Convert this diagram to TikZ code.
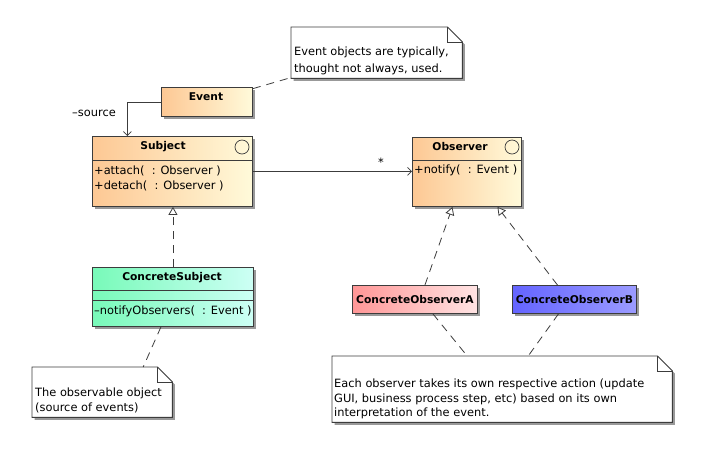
\documentclass[tikz,border=0pt]{standalone}
\usepackage{fontspec}
\setmainfont{DejaVu Sans}
\usetikzlibrary{arrows.meta,shadows,calc}
\definecolor{orgL}{RGB}{253,200,148}
\definecolor{orgR}{RGB}{255,250,218}
\definecolor{grnL}{RGB}{120,250,185}
\definecolor{grnR}{RGB}{205,255,245}
\definecolor{redL}{RGB}{255,150,150}
\definecolor{redR}{RGB}{255,228,228}
\definecolor{bluL}{RGB}{100,100,255}
\definecolor{bluR}{RGB}{155,155,255}
\definecolor{ln}{RGB}{60,60,60}
\begin{document}
\begin{tikzpicture}[x=1pt,y=-1pt,
  font=\fontsize{11.4}{15}\selectfont,
  shad/.style={drop shadow={shadow xshift=2.5pt,shadow yshift=-2.5pt,fill=black!40,opacity=1}},
  classbox/.style={draw=ln,line width=0.9pt,rectangle,inner sep=0pt,anchor=north west,shad},
  orangefill/.style={left color=orgL,right color=orgR},
  greenfill/.style={left color=grnL,right color=grnR},
  redfill/.style={left color=redL,right color=redR},
  bluefill/.style={left color=bluL,right color=bluR},
  divider/.style={draw=ln,line width=0.9pt},
  ttl/.style={font=\fontsize{10.7}{12}\bfseries\selectfont,inner sep=0pt},
  mem/.style={anchor=west,inner sep=0pt},
  notearea/.style={rectangle,inner sep=0pt,anchor=north west},
  noteline/.style={draw=ln,line width=0.9pt,fill=white},
  notetext/.style={anchor=base west,inner sep=0pt},
  link/.style={draw=ln,line width=0.8pt,dash pattern=on 8pt off 6pt},
  real/.style={draw=ln,line width=0.8pt,dash pattern=on 8pt off 6pt,-{Triangle[open,length=8pt,width=9pt,fill=white]}},
  assoc/.style={draw=ln,line width=0.8pt,-{Straight Barb[length=4pt,width=8pt,line width=0.7pt]}},
  kstate/.style={draw=ln,circle,line width=0.7pt,minimum size=14pt,inner sep=0pt}
]
\useasboundingbox[fill=white] (0,0) rectangle (725,451);

% ---- Notes
\node[notearea,minimum width=171pt,minimum height=51pt] (note1) at (291,27) {};
\node[notearea,minimum width=140pt,minimum height=50pt] (note2) at (32,367) {};
\node[notearea,minimum width=340pt,minimum height=66pt] (note3) at (332,356) {};
\foreach \n in {note1,note2,note3}{
  \path[noteline,shad] (\n.north west) -- ([xshift=-15pt]\n.north east) -- ([yshift=-15pt]\n.north east) -- (\n.south east) -- (\n.south west) -- cycle;
  \draw[ln,line width=0.9pt] ([xshift=-15pt]\n.north east) |- ([yshift=-15pt]\n.north east);
}
\node[notetext] (note1a) at (294,55) {Event objects are typically,};
\node[notetext] (note1b) at (294,72.5) {thought not always, used.};
\node[notetext] (note2a) at (35,396) {The observable object};
\node[notetext] (note2b) at (35,411) {(source of events)};
\node[notetext] (note3a) at (334,387) {Each observer takes its own respective action (update};
\node[notetext] (note3b) at (334,402) {GUI, business process step, etc) based on its own};
\node[notetext] (note3c) at (334,416.5) {interpretation of the event.};

% ---- Classes
\node[classbox,orangefill,minimum width=91pt,minimum height=29pt] (event) at (161,87) {};
\node[ttl] (eventt) at (206,97) {Event};

\node[classbox,orangefill,minimum width=160pt,minimum height=70pt] (subject) at (92,136) {};
\node[ttl] (subjectt) at (163,147) {Subject};
\node[kstate] (subjc) at (242,147) {};
\draw[divider] (subject.west |- 0,160) -- (subject.east |- 0,160);
\node[mem] (subjm1) at (94,171) {+attach(\ \ : Observer )};
\node[mem] (subjm2) at (94,186) {+detach(\ \ : Observer )};

\node[classbox,orangefill,minimum width=109pt,minimum height=69pt] (observer) at (412,137) {};
\node[ttl] (observert) at (460,147) {Observer};
\node[kstate] (obsc) at (512,147) {};
\draw[divider] (observer.west |- 0,160) -- (observer.east |- 0,160);
\node[mem] (obsm1) at (414,170) {+notify(\ \ : Event )};

\node[classbox,greenfill,minimum width=161pt,minimum height=59pt] (cs) at (92,267) {};
\node[ttl] (cst) at (172,278) {ConcreteSubject};
\draw[divider] (cs.west |- 0,290) -- (cs.east |- 0,290);
\draw[divider] (cs.west |- 0,300) -- (cs.east |- 0,300);
\node[mem] (csm1) at (94,311) {\textendash notifyObservers(\ \ : Event )};

\node[classbox,redfill,minimum width=125pt,minimum height=28pt] (coa) at (352,285) {};
\node[ttl] (coat) at (coa.center) {ConcreteObserverA};
\node[classbox,bluefill,minimum width=124pt,minimum height=28pt] (cob) at (512,285) {};
\node[ttl] (cobt) at (cob.center) {ConcreteObserverB};

% ---- Connectors
\draw[link] (event) -- (note1);
\draw[link] ([xshift=-12pt]cs.south) -- ([xshift=41pt]note2.north);
\draw[link] ([xshift=18pt]coa.south) -- ([xshift=-35pt]note3.north);
\draw[link] ([xshift=-16pt]cob.south) -- ([xshift=26pt]note3.north);

\draw[real] (cs.north) -- (cs.north |- subject.south);
\draw[real] ([xshift=10pt]coa.north) -- ([xshift=-14.5pt]observer.south);
\draw[real] ([xshift=-17pt]cob.north) -- ([xshift=30.5pt]observer.south);

\draw[assoc] (event.west) -| ([xshift=-45pt]subject.north);
\node[anchor=east,inner sep=0pt] (srclbl) at (116,113) {\textendash source};
\draw[assoc] (subject.east) -- (subject.east -| observer.west);
\node[inner sep=0pt] (mult) at (381,162) {*};
\end{tikzpicture}
\end{document}
